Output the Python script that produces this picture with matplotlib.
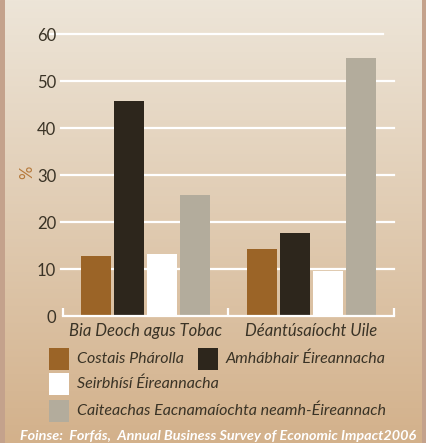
import numpy as np
import matplotlib.pyplot as plt
from matplotlib.patches import Rectangle

# sonraí
catagoiri = ['Bia Deoch agus Tobac', 'Déantúsaíocht Uile']
costais_pharolla = [12.8, 14.3]
amhabhair = [45.7, 17.7]
seirbhisi = [13.2, 9.7]
caiteachas = [25.8, 54.9]
sraitheanna = ['Costais Phárolla', 'Amhábhair Éireannacha',
               'Seirbhísí Éireannacha', 'Caiteachas Eacnamaíochta neamh-Éireannach']
yticks = [0, 10, 20, 30, 40, 50, 60]
foinse = 'Foinse:  Forfás,  Annual Business Survey of Economic Impact2006'

dathanna = ['#9b6427', '#2d261c', '#ffffff', '#b3ac9c']
txt = '#3a3326'
plt.rcParams['font.family'] = ['Lato', 'DejaVu Sans']

W, H = 427, 443
fig = plt.figure(figsize=(W / 100, H / 100), dpi=100)

# cúlra: stráicí ar na taobhanna agus grádán sa lár
bg = fig.add_axes([0, 0, 1, 1], zorder=-10)
bg.set_axis_off()
bg.add_patch(Rectangle((0, 0), W, H, color='#c4a28c', zorder=-5))
top = np.array([0xed, 0xe5, 0xd8]) / 255
bot = np.array([0xd3, 0xb1, 0x8b]) / 255
t = np.linspace(0, 1, 256)[:, None, None]
grad = top * (1 - t) + bot * t
bg.imshow(grad, extent=[5, 422, H, 0], aspect='auto', zorder=-4)
bg.set_xlim(0, W)
bg.set_ylim(H, 0)

def px(x, y):
    return x / W, 1 - y / H

ax = fig.add_axes([63 / W, 1 - 316.3 / H, 331 / W, 282.3 / H])
ax.patch.set_alpha(0)
ax.set_xlim(-0.5, 1.5)
ax.set_ylim(0, 60)

x = np.arange(len(catagoiri))
width = 0.182
step = 0.2
for i, vals in enumerate([costais_pharolla, amhabhair, seirbhisi, caiteachas]):
    ax.bar(x + (i - 1.5) * step, vals, width=width, color=dathanna[i], zorder=3)

# línte eangaí
for v in yticks[1:]:
    if v == 60:
        ax.plot([-0.579, 1.434], [v, v], color='white', lw=1.6, clip_on=False, zorder=1)
    else:
        ax.plot([-0.512, 1.5], [v, v], color='white', lw=1.6, clip_on=False, zorder=1)

for s in ['top', 'right', 'left']:
    ax.spines[s].set_visible(False)
ax.spines['bottom'].set_color('white')
ax.spines['bottom'].set_linewidth(1.6)
ax.spines['bottom'].set_zorder(4)

ax.set_yticks(yticks)
ax.set_yticklabels([str(v) for v in yticks], fontsize=12, color=txt)
ax.tick_params(axis='y', length=0, pad=5)
ax.set_xticks(x)
ax.set_xticklabels(catagoiri, fontsize=12, style='italic', color=txt)
ax.set_xticks([-0.5, 0.5, 1.5], minor=True)
ax.tick_params(axis='x', which='major', length=0, pad=5)
ax.tick_params(axis='x', which='minor', direction='in', length=6, width=1.6, color='white')

fig.text(*px(27, 172), '%', rotation=90, color='#b5783a', fontsize=12,
         ha='center', va='center')

# finscéal
leg = [(49, 359, 0), (198, 359, 1), (49, 384, 2), (49, 411, 3)]
for lx, ly, i in leg:
    bg.add_patch(Rectangle((lx, ly - 11), 20, 22, facecolor=dathanna[i], edgecolor='none'))
    bg.text(lx + 28, ly, sraitheanna[i], fontsize=11.5, style='italic', color=txt,
            ha='left', va='center')

bg.text(20, 440, foinse, fontsize=10.4, style='italic', weight='bold', color='white',
        ha='left', va='baseline')

fig.savefig('out.png', dpi=100)
